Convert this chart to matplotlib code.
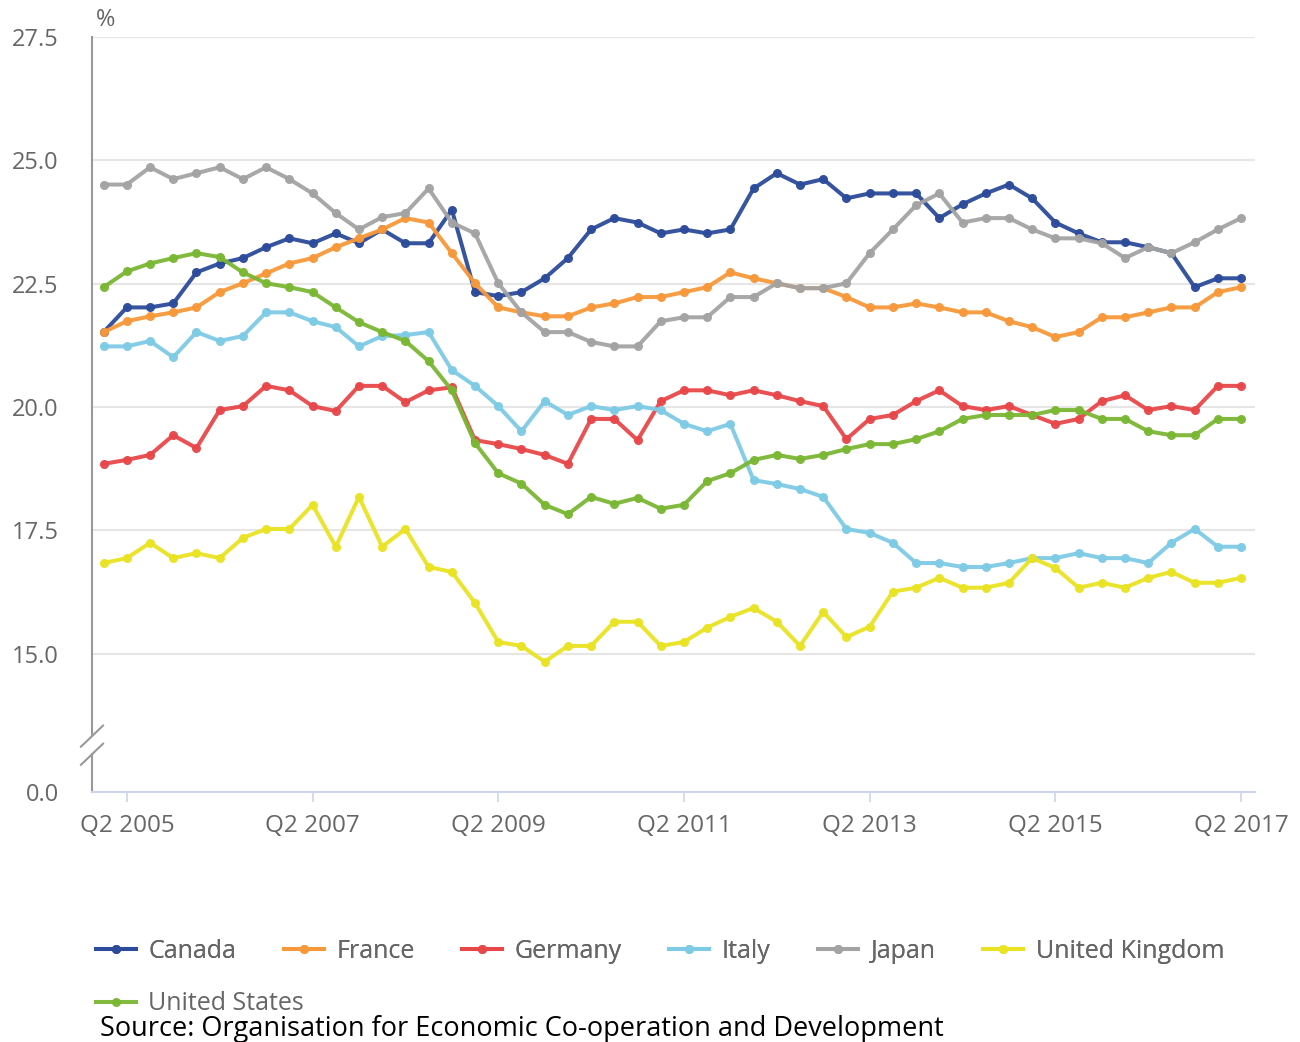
import numpy as np
import matplotlib
matplotlib.use("Agg")
import matplotlib.pyplot as plt

plt.rcParams['font.family'] = ['Open Sans', 'DejaVu Sans']

# quarterly values, Q1 2005 .. Q2 2017
years = list(range(2005, 2018))
quarters = [f"Q{q} {y}" for y in years for q in (1, 2, 3, 4)][:50]

canada = [21.52, 22.02, 22.02, 22.1, 22.73, 22.91, 23.02, 23.24, 23.42, 23.32,
          23.52, 23.32, 23.6, 23.32, 23.32, 24.0, 22.33, 22.25, 22.33, 22.61,
          23.02, 23.6, 23.83, 23.74, 23.52, 23.6, 23.52, 23.6, 24.43, 24.74,
          24.51, 24.62, 24.23, 24.33, 24.33, 24.33, 23.83, 24.11, 24.33, 24.51,
          24.23, 23.74, 23.52, 23.34, 23.34, 23.24, 23.12, 22.43, 22.61, 22.61]
france = [21.52, 21.74, 21.84, 21.92, 22.02, 22.33, 22.51, 22.71, 22.91, 23.02,
          23.24, 23.42, 23.6, 23.83, 23.74, 23.12, 22.51, 22.02, 21.92, 21.84,
          21.84, 22.02, 22.1, 22.23, 22.23, 22.33, 22.43, 22.73, 22.61, 22.51,
          22.41, 22.41, 22.23, 22.02, 22.02, 22.1, 22.02, 21.92, 21.92, 21.74,
          21.62, 21.42, 21.52, 21.82, 21.82, 21.92, 22.02, 22.02, 22.33, 22.43]
germany = [18.85, 18.93, 19.03, 19.43, 19.17, 19.94, 20.02, 20.43, 20.34, 20.02,
           19.92, 20.43, 20.43, 20.1, 20.34, 20.4, 19.33, 19.25, 19.15, 19.03,
           18.85, 19.76, 19.76, 19.33, 20.12, 20.34, 20.34, 20.24, 20.34, 20.24,
           20.12, 20.02, 19.35, 19.76, 19.84, 20.12, 20.34, 20.02, 19.94, 20.02,
           19.84, 19.66, 19.76, 20.12, 20.24, 19.94, 20.02, 19.94, 20.43, 20.43]
italy = [21.23, 21.23, 21.34, 21.01, 21.52, 21.34, 21.44, 21.92, 21.92, 21.74,
         21.62, 21.23, 21.44, 21.46, 21.52, 20.75, 20.43, 20.02, 19.51, 20.12,
         19.84, 20.02, 19.94, 20.02, 19.94, 19.66, 19.51, 19.66, 18.52, 18.44,
         18.34, 18.18, 17.53, 17.45, 17.25, 16.84, 16.84, 16.76, 16.76, 16.84,
         16.94, 16.94, 17.04, 16.94, 16.94, 16.84, 17.25, 17.53, 17.17, 17.17]
japan = [24.51, 24.51, 24.86, 24.62, 24.74, 24.86, 24.62, 24.86, 24.62, 24.33,
         23.93, 23.6, 23.85, 23.93, 24.43, 23.74, 23.52, 22.51, 21.92, 21.52,
         21.52, 21.32, 21.23, 21.23, 21.74, 21.82, 21.82, 22.23, 22.23, 22.51,
         22.41, 22.41, 22.51, 23.12, 23.6, 24.09, 24.33, 23.74, 23.83, 23.83,
         23.6, 23.42, 23.42, 23.32, 23.02, 23.24, 23.12, 23.34, 23.6, 23.83]
uk = [16.84, 16.94, 17.25, 16.94, 17.04, 16.94, 17.35, 17.53, 17.53, 18.02,
      17.17, 18.18, 17.17, 17.53, 16.76, 16.66, 16.03, 15.24, 15.16, 14.84,
      15.16, 15.16, 15.65, 15.65, 15.16, 15.24, 15.53, 15.75, 15.93, 15.65,
      15.16, 15.85, 15.34, 15.55, 16.26, 16.34, 16.54, 16.34, 16.34, 16.44,
      16.94, 16.74, 16.34, 16.44, 16.34, 16.54, 16.66, 16.44, 16.44, 16.54]
us = [22.43, 22.75, 22.91, 23.02, 23.12, 23.04, 22.73, 22.51, 22.43, 22.33,
      22.02, 21.72, 21.52, 21.34, 20.93, 20.34, 19.27, 18.66, 18.45, 18.02,
      17.83, 18.18, 18.04, 18.16, 17.94, 18.02, 18.5, 18.66, 18.93, 19.03,
      18.95, 19.03, 19.15, 19.25, 19.25, 19.35, 19.51, 19.76, 19.84, 19.84,
      19.84, 19.94, 19.94, 19.76, 19.76, 19.51, 19.43, 19.43, 19.76, 19.76]

names = ["Canada", "France", "Germany", "Italy", "Japan", "United Kingdom", "United States"]
series = [canada, france, germany, italy, japan, uk, us]
colors = ["#2c4b9a", "#f7983a", "#e8474a", "#7ecbe5", "#a3a3a3", "#e9e324", "#7ab733"]

yticks = [0, 15, 17.5, 20, 22.5, 25, 27.5]

# broken y axis: compress 0..13.5 into a short strip
BRK, LO = 13.5, 12.2
def fwd(v):
    v = np.asarray(v, float)
    return np.where(v >= BRK, v, LO + v * (BRK - LO) / BRK)
def inv(t):
    t = np.asarray(t, float)
    return np.where(t >= BRK, t, (t - LO) * BRK / (BRK - LO))

fig = plt.figure(figsize=(13, 10.42), dpi=100)
ax = fig.add_axes([92/1300, 250/1042, 1163/1300, 755/1042])
ax.set_yscale('function', functions=(fwd, inv))

x = np.arange(len(quarters))
handles = []
for name, vals, c in zip(names, series, colors):
    h, = ax.plot(x, vals, color=c, lw=2.9, marker='o', ms=5.5, mec=c, label=name,
                 solid_joinstyle='round', alpha=0.95)
    handles.append(h)

ax.set_ylim(0, 27.5)
ax.set_xlim(-0.5, 49.6)
ax.set_yticks(yticks)
ax.set_yticklabels([f"{t:.1f}" for t in yticks])
xt = list(range(1, 50, 8))
ax.set_xticks(xt)
ax.set_xticklabels([quarters[i] for i in xt])

ax.tick_params(axis='y', length=0, pad=24, labelsize=17, labelcolor='#666666')
ax.tick_params(axis='x', length=7, width=1.2, color='#ccd6eb', pad=9,
               labelsize=17.5, labelcolor='#666666')
ax.yaxis.grid(True, color='#e6e6e6', lw=1.5)
ax.set_axisbelow(True)
for s in ('top', 'right', 'left'):
    ax.spines[s].set_visible(False)
ax.spines['bottom'].set_color('#ccd6eb')
ax.spines['bottom'].set_linewidth(1.5)
ax.spines['bottom'].set_zorder(5)

# left axis line with break marks
axc = '#999999'
ax.plot([0, 0], [1, 0.074], transform=ax.transAxes, color=axc, lw=1.5, clip_on=False)
ax.plot([0, 0], [0.05, 0], transform=ax.transAxes, color=axc, lw=1.5, clip_on=False)
for yc in (0.074, 0.05):
    ax.plot([-0.0095, 0.0095], [yc - 0.014, yc + 0.014], transform=ax.transAxes,
            color=axc, lw=1.5, clip_on=False)

ax.text(0.003, 1.0225, '%', transform=ax.transAxes, ha='left', va='center',
        fontsize=17, color='#666666')

leg_kw = dict(frameon=False, handlelength=1.6, handletextpad=0.5, columnspacing=1.9,
              fontsize=18, labelcolor='#666666', borderaxespad=0, borderpad=0,
              loc='center left')
leg1 = fig.legend(handles[:6], names[:6], ncol=6, bbox_to_anchor=(96/1300, 91/1042), **leg_kw)
fig.legend(handles[6:], names[6:], ncol=1, bbox_to_anchor=(96/1300, 38/1042), **leg_kw)
fig.add_artist(leg1)

fig.text(100/1300, 13/1042, "Source: Organisation for Economic Co-operation and Development",
         ha='left', va='center', fontsize=19.5, color='black')

fig.savefig("out.png", dpi=100)
